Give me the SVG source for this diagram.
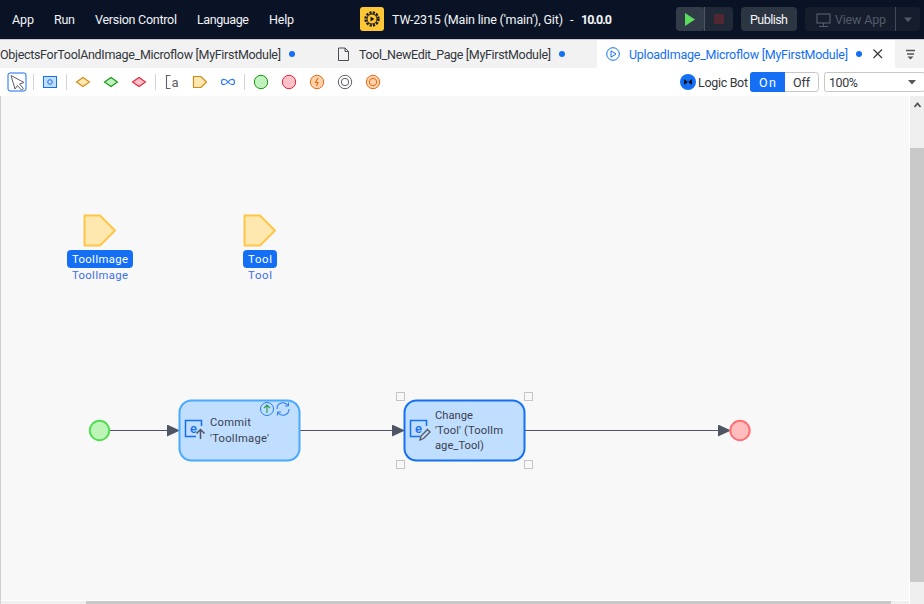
<svg xmlns="http://www.w3.org/2000/svg" width="924" height="604" viewBox="0 0 924 604">
<style>
text{font-family:Roboto,"Open Sans","Liberation Sans",sans-serif;font-size:12.500px}
.menu{fill:#f2f4f7}
.tab{fill:#33373d}
.active{fill:#146ff4}
.node-label{fill:#3a4050;font-size:11.200px}
.badge{fill:#fff;font-size:11.300px}
.param{fill:#3c6fe8;font-size:11.300px}
.activity{fill:#c0deff;stroke:#47a9ff;stroke-width:2}
.selected{stroke:#146ff4}
.param-shape{fill:#ffe7b0;stroke:#ffc645;stroke-width:2;stroke-linejoin:round}
.ic{fill:none;stroke:#146ff4;stroke-width:1.500}
.handle{fill:#f8f8f8;stroke:#c4c4c4;stroke-width:1}
.conn{stroke:#4f5563;stroke-width:1.200;fill:none}
.sep{stroke:#d4d4d4;stroke-width:1}
</style>
<defs>
<marker id="arrow" markerUnits="userSpaceOnUse" markerWidth="14" markerHeight="12" refX="13" refY="6" orient="auto"><path d="M0 0L13 6L0 12Z" fill="#4f5563"/></marker>
</defs>

<g id="title-bar">
<rect width="924" height="39" fill="#0a1325"/>
<rect y="39" width="924" height="1" fill="#c9ccd1"/>
<text class="menu" x="12" y="24" textLength="22">App</text>
<text class="menu" x="54" y="24" textLength="21">Run</text>
<text class="menu" x="95" y="24" textLength="82">Version Control</text>
<text class="menu" x="197" y="24" textLength="52">Language</text>
<text class="menu" x="269" y="24" textLength="25">Help</text>
<rect x="360" y="7" width="24" height="24" rx="3" fill="#ffc735"/>
<circle cx="372" cy="19" r="6.500" fill="none" stroke="#1a1a1a" stroke-width="2.400" stroke-dasharray="2.200 1.200"/>
<circle cx="372" cy="19" r="5" fill="#ffc735" stroke="#1a1a1a" stroke-width="1"/>
<path d="M370.500 16.500L374.500 19L370.500 21.500Z" fill="#1a1a1a"/>
<text class="menu" x="392" y="24" textLength="171">TW-2315 (Main line ('main'), Git)</text>
<text class="menu" x="570" y="24">-</text>
<text class="menu" x="581" y="24" textLength="31" font-weight="700">10.0.0</text>
<rect x="676" y="7" width="57" height="24" rx="4" fill="#1f2937"/>
<rect x="676" y="7" width="28" height="24" rx="4" fill="#323c49"/>
<rect x="704" y="7" width="1" height="24" fill="#4b5563"/>
<path d="M685 13L695 19.500L685 26Z" fill="#5cdc5c"/>
<rect x="714" y="14" width="10" height="10" fill="#512832"/>
<rect x="741" y="7" width="56" height="24" rx="4" fill="#2c3542"/>
<text class="menu" x="750" y="24" textLength="38">Publish</text>
<rect x="805" y="7" width="115" height="24" rx="4" fill="#161e2e"/>
<rect x="895" y="7" width="1" height="24" fill="#414a58"/>
<g fill="none" stroke="#535b68" stroke-width="1.200"><rect x="817" y="14" width="13" height="9"/><path d="M823.500 23V26M819 26.500H828"/></g>
<text x="835" y="24" fill="#535b68" textLength="51">View App</text>
<path d="M904 17.500H912L908 22Z" fill="#535b68"/>
</g>

<g id="tab-bar">
<rect y="40" width="924" height="28" fill="#f2f2f2"/>
<rect x="597" y="40" width="298" height="28" fill="#fff"/>
<text class="tab" x="0" y="59" textLength="281">ObjectsForToolAndImage_Microflow [MyFirstModule]</text>
<circle cx="292" cy="54" r="3" fill="#146ff4"/>
<path d="M338.500 48H345L348.500 51.500V60.500H338.500ZM345 48V51.500H348.500" fill="none" stroke="#4a4f57" stroke-width="1"/>
<text class="tab" x="359" y="59" textLength="192">Tool_NewEdit_Page [MyFirstModule]</text>
<circle cx="562" cy="54" r="3" fill="#146ff4"/>
<circle cx="613" cy="54" r="6.300" fill="none" stroke="#146ff4" stroke-width="1"/>
<path d="M611 50.800L616 54L611 57.200Z" fill="none" stroke="#146ff4" stroke-width="1"/>
<text class="active" x="629" y="59" textLength="219">UploadImage_Microflow [MyFirstModule]</text>
<circle cx="859" cy="54" r="3" fill="#146ff4"/>
<path d="M873.500 49.500L882 58M882 49.500L873.500 58" stroke="#33373d" stroke-width="1.200" fill="none"/>
<path d="M906 50.500H915M907 54H914" stroke="#555" stroke-width="1.300"/>
<path d="M907.500 56.500H913.500L910.500 59.500Z" fill="#555"/>
</g>

<g id="toolbar">
<rect y="68" width="924" height="28" fill="#fff"/>
<rect x="8" y="73" width="18" height="18" rx="2" fill="#fff" stroke="#146ff4" stroke-width="1"/>
<path d="M11 75.500L24 82.500L19.500 84L23.500 88.500L21.500 90L17.500 85.500L15 89Z" fill="#fff" stroke="#5d6068" stroke-width="1"/>
<path class="sep" d="M33.500 74V90M66.500 74V90M155.500 74V90M244.500 74V90"/>
<rect x="43.500" y="76.500" width="13" height="11" fill="#c0deff" stroke="#146ff4"/>
<circle cx="50" cy="82" r="2.300" fill="none" stroke="#146ff4"/>
<path d="M76.500 82L83 77.500L89.500 82L83 86.500Z" fill="#ffe7b0" stroke="#d18a16" stroke-width="1.100"/>
<path d="M104.500 82L111 77.500L117.500 82L111 86.500Z" fill="#bff2bd" stroke="#149414" stroke-width="1.100"/>
<path d="M132.500 82L139 77.500L145.500 82L139 86.500Z" fill="#ffc1c9" stroke="#e0243a" stroke-width="1.100"/>
<path d="M170.500 75.500H166.500V88.500H170.500" fill="none" stroke="#5d6068" stroke-width="1.100"/>
<text x="171.500" y="86.500" fill="#5d6068" style="font-size:13px">a</text>
<path d="M193.500 76.500H201L206.500 82L201 87.500H193.500Z" fill="#ffe7b0" stroke="#d18a16" stroke-width="1.200"/>
<path d="M228 82C225.500 78.500 221.500 78.500 221.500 82C221.500 85.500 225.500 85.500 228 82C230.500 78.500 234.500 78.500 234.500 82C234.500 85.500 230.500 85.500 228 82" fill="none" stroke="#2f7cf0" stroke-width="1.100"/>
<circle cx="261" cy="82" r="6.700" fill="#bff2bd" stroke="#149414"/>
<circle cx="289" cy="82" r="6.700" fill="#ffc1c9" stroke="#e0243a"/>
<circle cx="317" cy="82" r="6.700" fill="#ffd2ad" stroke="#e66b12"/>
<path d="M318 78L315.500 82.500H318L316.500 86" fill="none" stroke="#e66b12" stroke-width="1.100"/>
<circle cx="345" cy="82" r="6.700" fill="#fff" stroke="#5d6068"/>
<circle cx="345" cy="82" r="3.700" fill="#fff" stroke="#5d6068"/>
<circle cx="373" cy="82" r="6.700" fill="#ffd2ad" stroke="#e66b12"/>
<circle cx="373" cy="82" r="3.700" fill="#ffd2ad" stroke="#e66b12"/>
<circle cx="688" cy="82" r="8" fill="#146ff4"/>
<path d="M684 79L688 82L684 85ZM692 79L688 82L692 85Z" fill="#0a1325"/>
<text class="tab" x="698" y="87" textLength="50">Logic Bot</text>
<rect x="750.500" y="72.500" width="68" height="19" rx="3" fill="#fff" stroke="#c6c6c6"/>
<path d="M753 72H785V92H753A3 3 0 0 1 750 89V75A3 3 0 0 1 753 72Z" fill="#146ff4"/>
<text x="759" y="87" fill="#fff" textLength="17">On</text>
<text class="tab" x="793" y="87" textLength="17">Off</text>
<rect x="824.500" y="72.500" width="100" height="19" rx="2" fill="#fff" stroke="#c6c6c6"/>
<text class="tab" x="829" y="87" textLength="29">100%</text>
<path d="M908 80H916L912 84.500Z" fill="#555"/>
</g>

<g id="canvas">
<rect y="96" width="924" height="508" fill="#f8f8f8"/>
<rect y="96" width="1" height="508" fill="#d0d0d8"/>
<rect x="909" y="96" width="15" height="508" fill="#fff"/>
<rect x="910" y="96" width="14" height="508" fill="#efefef"/>
<rect x="910" y="148" width="14" height="434" fill="#c8c8c8"/>
<path d="M914.500 107L917.500 103.500L920.500 107" fill="none" stroke="#555" stroke-width="1.800"/>
<rect x="1" y="600" width="908" height="4" fill="#fff"/>
<rect x="1" y="601" width="908" height="3" fill="#efefef"/>
<rect x="86" y="601" width="805" height="3" fill="#c8c8c8"/>
</g>

<g id="connectors">
<path class="conn" d="M110 430.500H180" marker-end="url(#arrow)"/>
<path class="conn" d="M300 430.500H405" marker-end="url(#arrow)"/>
<path class="conn" d="M525 430.500H731" marker-end="url(#arrow)"/>
</g>

<g id="param-toolimage">
<path class="param-shape" d="M84.500 215.500H100L115 230.500L100 245.500H84.500Z"/>
<rect x="67" y="250" width="66" height="18" rx="4" fill="#146ff4"/>
<text class="badge" x="72" y="262.500" textLength="56">ToolImage</text>
<text class="param" x="72" y="279" textLength="56">ToolImage</text>
</g>

<g id="param-tool">
<path class="param-shape" d="M244.500 215.500H260L275 230.500L260 245.500H244.500Z"/>
<rect x="243" y="250" width="34" height="18" rx="4" fill="#146ff4"/>
<text class="badge" x="248" y="262.500" textLength="24">Tool</text>
<text class="param" x="248" y="279" textLength="24">Tool</text>
</g>

<g id="start">
<circle cx="99.500" cy="430.500" r="9.700" fill="#bdf5b8" stroke="#55dc55" stroke-width="2"/>
</g>

<g id="commit">
<rect class="activity" x="179.500" y="400.500" width="120" height="60" rx="12"/>
<path class="ic" d="M201.500 426V420.500H185.500V436.500H196"/>
<text x="190" y="433" fill="#146ff4" style="font-size:13px;font-weight:500">e</text>
<path d="M200.500 439V430M196.500 433.500L200.500 429.500L204.500 433.500" fill="none" stroke="#4f5563" stroke-width="1.500"/>
<text class="node-label" x="210" y="426" textLength="41">Commit</text>
<text class="node-label" x="210" y="442" textLength="59">'ToolImage'</text>
<circle cx="267" cy="409" r="6.500" fill="none" stroke="#2f7cf0" stroke-width="1"/>
<path d="M267 413V405.500M264 408L267 405L270 408" fill="none" stroke="#2e9e5a" stroke-width="1.200"/>
<path d="M277 409A6 6 0 0 1 288 405.500M289 409A6 6 0 0 1 278 412.500" fill="none" stroke="#2f7cf0" stroke-width="1.100"/>
<path d="M288.500 402.500V406H285M277.500 415.500V412H281" fill="none" stroke="#2f7cf0" stroke-width="1"/>
</g>

<g id="change">
<rect class="activity selected" x="404.500" y="400.500" width="120" height="60" rx="12"/>
<path class="ic" d="M426.500 426V420.500H410.500V436.500H420"/>
<text x="415" y="433" fill="#146ff4" style="font-size:13px;font-weight:500">e</text>
<path d="M420 440L421 436L427.500 429.500L430 432L423.500 438.500Z" fill="none" stroke="#4f5563" stroke-width="1.300"/>
<text class="node-label" x="435" y="419" textLength="38">Change</text>
<text class="node-label" x="435" y="434" textLength="68">'Tool' (ToolIm</text>
<text class="node-label" x="435" y="449" textLength="49">age_Tool)</text>
<rect class="handle" x="396.500" y="392.500" width="8" height="8"/>
<rect class="handle" x="524.500" y="392.500" width="8" height="8"/>
<rect class="handle" x="396.500" y="460.500" width="8" height="8"/>
<rect class="handle" x="524.500" y="460.500" width="8" height="8"/>
</g>

<g id="end">
<circle cx="740" cy="430.500" r="9.700" fill="#ffbdbd" stroke="#ff7076" stroke-width="2"/>
</g>
</svg>
